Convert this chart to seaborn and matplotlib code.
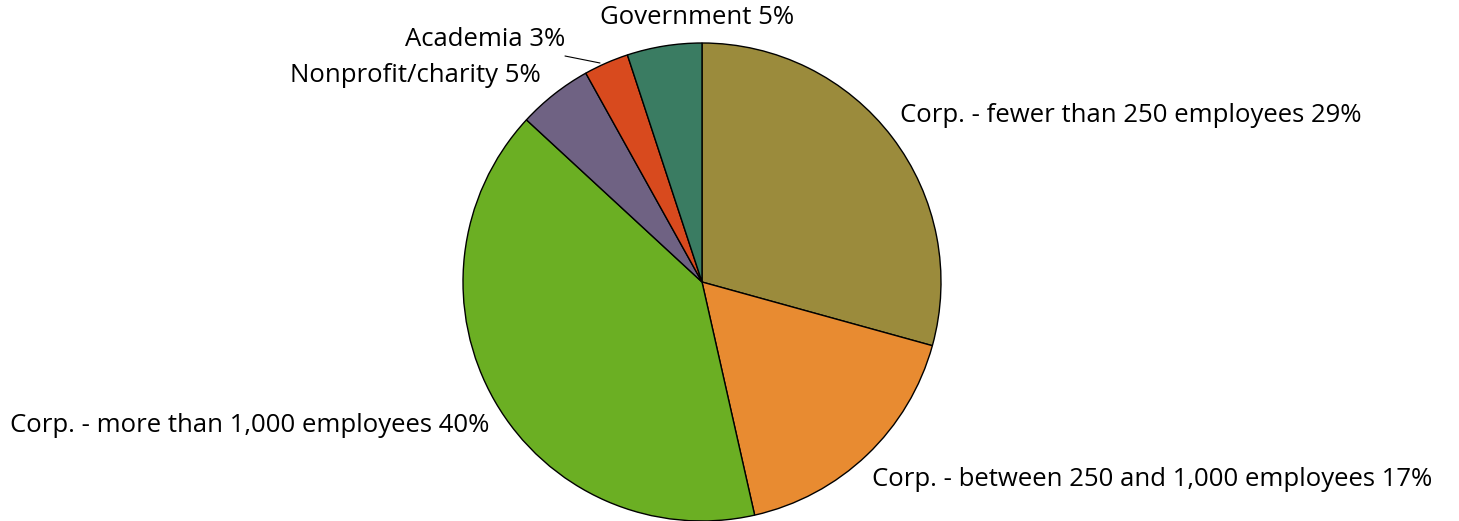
import matplotlib
matplotlib.use("Agg")
import matplotlib.pyplot as plt
import seaborn as sns

# Share of respondents by employer type
categories = [
    "Corp. - fewer than 250 employees",
    "Corp. - between 250 and 1,000 employees",
    "Corp. - more than 1,000 employees",
    "Nonprofit/charity",
    "Academia",
    "Government",
]
shares = [29, 17, 40, 5, 3, 5]

colors = ["#9B8B3C", "#E88B31", "#6BAF23", "#6F6283", "#D84A1E", "#3A7C62"]

sns.set_theme(style="white")
plt.rcParams["font.family"] = ["Open Sans", "DejaVu Sans"]

W, H = 1459, 521
fig = plt.figure(figsize=(W / 100, H / 100), dpi=100)
ax = fig.add_axes([0, 0, 1, 1])

cx, cy, r = 702, H - 282, 239
wedges, _ = ax.pie(
    shares,
    colors=colors,
    startangle=90,
    counterclock=False,
    center=(cx, cy),
    radius=r,
    wedgeprops=dict(edgecolor="black", linewidth=1.0),
)
ax.set_xlim(0, W)
ax.set_ylim(0, H)
ax.set_aspect("equal")
ax.axis("off")

# label anchor (pixel x, pixel y from top, horizontal alignment)
label_pos = [
    (900, 116, "left"),
    (872, 480, "left"),
    (10, 425, "left"),
    (541, 75, "right"),
    (565, 40, "right"),
    (697, 18, "center"),
]
for name, val, (lx, ly, ha) in zip(categories, shares, label_pos):
    ax.text(lx, H - ly, f"{name} {val}%", ha=ha, va="center",
            fontsize=18.5, color="black")

# leader line for the small Academia slice
ax.plot([565, 600], [H - 56, H - 63], color="black", linewidth=0.8)

fig.savefig("out.png", dpi=100)
